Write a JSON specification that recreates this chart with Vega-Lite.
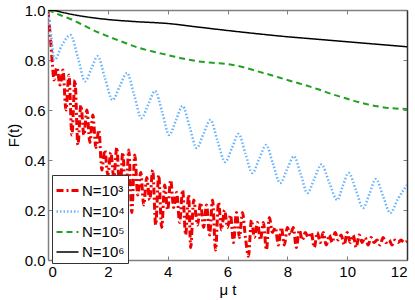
{
"$schema": "https://vega.github.io/schema/vega-lite/v6.json",
"width": 359, "height": 250, "autosize": "none",
"padding": {"left": 48, "top": 10, "right": 8, "bottom": 40},
"config": {"view": {"stroke": null}, "font": "Liberation Sans", "background": "white"},
"data": {"values": [
{"s":"N=10³","t":0,"F":1.0},{"s":"N=10³","t":0.05,"F":0.93},{"s":"N=10³","t":0.1,"F":0.86},{"s":"N=10³","t":0.15,"F":0.78},{"s":"N=10³","t":0.2,"F":0.72},{"s":"N=10³","t":0.3,"F":0.77},{"s":"N=10³","t":0.4,"F":0.7},{"s":"N=10³","t":0.5,"F":0.76},{"s":"N=10³","t":0.6,"F":0.6},{"s":"N=10³","t":0.7,"F":0.74},{"s":"N=10³","t":0.8,"F":0.5},{"s":"N=10³","t":0.9,"F":0.72},{"s":"N=10³","t":1.0,"F":0.46},{"s":"N=10³","t":1.1,"F":0.62},{"s":"N=10³","t":1.2,"F":0.5},{"s":"N=10³","t":1.3,"F":0.6},{"s":"N=10³","t":1.4,"F":0.47},{"s":"N=10³","t":1.5,"F":0.58},{"s":"N=10³","t":1.6,"F":0.45},{"s":"N=10³","t":1.7,"F":0.52},{"s":"N=10³","t":1.8,"F":0.36},{"s":"N=10³","t":1.9,"F":0.44},{"s":"N=10³","t":2.0,"F":0.34},{"s":"N=10³","t":2.1,"F":0.43},{"s":"N=10³","t":2.2,"F":0.33},{"s":"N=10³","t":2.3,"F":0.45},{"s":"N=10³","t":2.4,"F":0.26},{"s":"N=10³","t":2.5,"F":0.43},{"s":"N=10³","t":2.6,"F":0.24},{"s":"N=10³","t":2.7,"F":0.44},{"s":"N=10³","t":2.8,"F":0.19},{"s":"N=10³","t":2.9,"F":0.42},{"s":"N=10³","t":3.0,"F":0.26},{"s":"N=10³","t":3.1,"F":0.35},{"s":"N=10³","t":3.2,"F":0.22},{"s":"N=10³","t":3.3,"F":0.33},{"s":"N=10³","t":3.4,"F":0.24},{"s":"N=10³","t":3.5,"F":0.36},{"s":"N=10³","t":3.6,"F":0.14},{"s":"N=10³","t":3.7,"F":0.34},{"s":"N=10³","t":3.8,"F":0.13},{"s":"N=10³","t":3.9,"F":0.3},{"s":"N=10³","t":4.0,"F":0.2},{"s":"N=10³","t":4.1,"F":0.32},{"s":"N=10³","t":4.2,"F":0.21},{"s":"N=10³","t":4.3,"F":0.27},{"s":"N=10³","t":4.4,"F":0.15},{"s":"N=10³","t":4.5,"F":0.28},{"s":"N=10³","t":4.6,"F":0.1},{"s":"N=10³","t":4.7,"F":0.26},{"s":"N=10³","t":4.77,"F":0.05},{"s":"N=10³","t":4.87,"F":0.24},{"s":"N=10³","t":5.0,"F":0.14},{"s":"N=10³","t":5.1,"F":0.23},{"s":"N=10³","t":5.2,"F":0.13},{"s":"N=10³","t":5.3,"F":0.22},{"s":"N=10³","t":5.4,"F":0.1},{"s":"N=10³","t":5.5,"F":0.24},{"s":"N=10³","t":5.6,"F":0.04},{"s":"N=10³","t":5.7,"F":0.23},{"s":"N=10³","t":5.8,"F":0.12},{"s":"N=10³","t":5.9,"F":0.2},{"s":"N=10³","t":6.0,"F":0.13},{"s":"N=10³","t":6.1,"F":0.18},{"s":"N=10³","t":6.2,"F":0.07},{"s":"N=10³","t":6.3,"F":0.19},{"s":"N=10³","t":6.4,"F":0.09},{"s":"N=10³","t":6.5,"F":0.19},{"s":"N=10³","t":6.6,"F":0.09},{"s":"N=10³","t":6.7,"F":0.015},{"s":"N=10³","t":6.8,"F":0.16},{"s":"N=10³","t":6.9,"F":0.09},{"s":"N=10³","t":7.0,"F":0.15},{"s":"N=10³","t":7.1,"F":0.08},{"s":"N=10³","t":7.2,"F":0.15},{"s":"N=10³","t":7.3,"F":0.04},{"s":"N=10³","t":7.4,"F":0.17},{"s":"N=10³","t":7.5,"F":0.11},{"s":"N=10³","t":7.6,"F":0.13},{"s":"N=10³","t":7.7,"F":0.06},{"s":"N=10³","t":7.8,"F":0.13},{"s":"N=10³","t":7.9,"F":0.06},{"s":"N=10³","t":8.0,"F":0.13},{"s":"N=10³","t":8.1,"F":0.1},{"s":"N=10³","t":8.2,"F":0.13},{"s":"N=10³","t":8.3,"F":0.05},{"s":"N=10³","t":8.4,"F":0.12},{"s":"N=10³","t":8.5,"F":0.08},{"s":"N=10³","t":8.6,"F":0.11},{"s":"N=10³","t":8.7,"F":0.09},{"s":"N=10³","t":8.8,"F":0.11},{"s":"N=10³","t":8.9,"F":0.05},{"s":"N=10³","t":9.0,"F":0.11},{"s":"N=10³","t":9.1,"F":0.07},{"s":"N=10³","t":9.2,"F":0.11},{"s":"N=10³","t":9.3,"F":0.06},{"s":"N=10³","t":9.4,"F":0.1},{"s":"N=10³","t":9.5,"F":0.07},{"s":"N=10³","t":9.6,"F":0.11},{"s":"N=10³","t":9.7,"F":0.08},{"s":"N=10³","t":9.8,"F":0.1},{"s":"N=10³","t":9.9,"F":0.06},{"s":"N=10³","t":10.0,"F":0.11},{"s":"N=10³","t":10.1,"F":0.07},{"s":"N=10³","t":10.2,"F":0.1},{"s":"N=10³","t":10.3,"F":0.05},{"s":"N=10³","t":10.4,"F":0.1},{"s":"N=10³","t":10.5,"F":0.07},{"s":"N=10³","t":10.6,"F":0.09},{"s":"N=10³","t":10.7,"F":0.06},{"s":"N=10³","t":10.8,"F":0.09},{"s":"N=10³","t":10.9,"F":0.07},{"s":"N=10³","t":11.0,"F":0.08},{"s":"N=10³","t":11.1,"F":0.06},{"s":"N=10³","t":11.2,"F":0.09},{"s":"N=10³","t":11.3,"F":0.07},{"s":"N=10³","t":11.4,"F":0.08},{"s":"N=10³","t":11.5,"F":0.06},{"s":"N=10³","t":11.6,"F":0.08},{"s":"N=10³","t":11.7,"F":0.07},{"s":"N=10³","t":11.8,"F":0.08},{"s":"N=10³","t":11.9,"F":0.07},{"s":"N=10³","t":12.0,"F":0.075},
{"s":"N=10⁴","t":0,"F":1.0},{"s":"N=10⁴","t":0.1,"F":0.9},{"s":"N=10⁴","t":0.22,"F":0.8},{"s":"N=10⁴","t":0.47,"F":0.86},{"s":"N=10⁴","t":0.75,"F":0.9},{"s":"N=10⁴","t":1.0,"F":0.81},{"s":"N=10⁴","t":1.24,"F":0.715},{"s":"N=10⁴","t":1.45,"F":0.765},{"s":"N=10⁴","t":1.66,"F":0.815},{"s":"N=10⁴","t":1.9,"F":0.73},{"s":"N=10⁴","t":2.16,"F":0.64},{"s":"N=10⁴","t":2.4,"F":0.695},{"s":"N=10⁴","t":2.64,"F":0.748},{"s":"N=10⁴","t":2.88,"F":0.66},{"s":"N=10⁴","t":3.12,"F":0.568},{"s":"N=10⁴","t":3.35,"F":0.622},{"s":"N=10⁴","t":3.58,"F":0.676},{"s":"N=10⁴","t":3.82,"F":0.59},{"s":"N=10⁴","t":4.05,"F":0.5},{"s":"N=10⁴","t":4.28,"F":0.56},{"s":"N=10⁴","t":4.5,"F":0.616},{"s":"N=10⁴","t":4.74,"F":0.53},{"s":"N=10⁴","t":4.97,"F":0.448},{"s":"N=10⁴","t":5.2,"F":0.505},{"s":"N=10⁴","t":5.43,"F":0.56},{"s":"N=10⁴","t":5.67,"F":0.475},{"s":"N=10⁴","t":5.92,"F":0.392},{"s":"N=10⁴","t":6.15,"F":0.448},{"s":"N=10⁴","t":6.37,"F":0.504},{"s":"N=10⁴","t":6.6,"F":0.425},{"s":"N=10⁴","t":6.83,"F":0.348},{"s":"N=10⁴","t":7.06,"F":0.405},{"s":"N=10⁴","t":7.29,"F":0.46},{"s":"N=10⁴","t":7.52,"F":0.385},{"s":"N=10⁴","t":7.76,"F":0.308},{"s":"N=10⁴","t":8.0,"F":0.365},{"s":"N=10⁴","t":8.22,"F":0.415},{"s":"N=10⁴","t":8.45,"F":0.342},{"s":"N=10⁴","t":8.67,"F":0.268},{"s":"N=10⁴","t":8.9,"F":0.325},{"s":"N=10⁴","t":9.14,"F":0.382},{"s":"N=10⁴","t":9.4,"F":0.31},{"s":"N=10⁴","t":9.67,"F":0.24},{"s":"N=10⁴","t":9.85,"F":0.295},{"s":"N=10⁴","t":10.05,"F":0.348},{"s":"N=10⁴","t":10.3,"F":0.278},{"s":"N=10⁴","t":10.53,"F":0.208},{"s":"N=10⁴","t":10.75,"F":0.266},{"s":"N=10⁴","t":10.96,"F":0.324},{"s":"N=10⁴","t":11.2,"F":0.256},{"s":"N=10⁴","t":11.44,"F":0.188},{"s":"N=10⁴","t":11.7,"F":0.245},{"s":"N=10⁴","t":12.0,"F":0.3},
{"s":"N=10⁵","t":0,"F":1.0},{"s":"N=10⁵","t":0.4,"F":0.98},{"s":"N=10⁵","t":0.75,"F":0.964},{"s":"N=10⁵","t":1.0,"F":0.95},{"s":"N=10⁵","t":1.5,"F":0.92},{"s":"N=10⁵","t":2.0,"F":0.895},{"s":"N=10⁵","t":2.5,"F":0.872},{"s":"N=10⁵","t":3.0,"F":0.85},{"s":"N=10⁵","t":3.5,"F":0.834},{"s":"N=10⁵","t":4.0,"F":0.82},{"s":"N=10⁵","t":4.5,"F":0.806},{"s":"N=10⁵","t":5.0,"F":0.795},{"s":"N=10⁵","t":5.5,"F":0.789},{"s":"N=10⁵","t":6.0,"F":0.784},{"s":"N=10⁵","t":6.5,"F":0.772},{"s":"N=10⁵","t":7.0,"F":0.755},{"s":"N=10⁵","t":7.5,"F":0.738},{"s":"N=10⁵","t":8.0,"F":0.72},{"s":"N=10⁵","t":8.5,"F":0.703},{"s":"N=10⁵","t":9.0,"F":0.684},{"s":"N=10⁵","t":9.5,"F":0.663},{"s":"N=10⁵","t":10.0,"F":0.645},{"s":"N=10⁵","t":10.5,"F":0.628},{"s":"N=10⁵","t":11.0,"F":0.615},{"s":"N=10⁵","t":11.5,"F":0.607},{"s":"N=10⁵","t":12.0,"F":0.604},
{"s":"N=10⁶","t":0,"F":1.0},{"s":"N=10⁶","t":0.25,"F":0.997},{"s":"N=10⁶","t":0.5,"F":0.99},{"s":"N=10⁶","t":1.0,"F":0.978},{"s":"N=10⁶","t":1.5,"F":0.969},{"s":"N=10⁶","t":2.0,"F":0.962},{"s":"N=10⁶","t":3.0,"F":0.953},{"s":"N=10⁶","t":4.0,"F":0.946},{"s":"N=10⁶","t":5.0,"F":0.932},{"s":"N=10⁶","t":6.0,"F":0.918},{"s":"N=10⁶","t":7.0,"F":0.905},{"s":"N=10⁶","t":8.0,"F":0.893},{"s":"N=10⁶","t":9.0,"F":0.883},{"s":"N=10⁶","t":10.0,"F":0.873},{"s":"N=10⁶","t":11.0,"F":0.863},{"s":"N=10⁶","t":12.0,"F":0.853}
]},
"layer": [
{"mark": {"type": "line", "interpolate": "monotone", "clip": true},
 "encoding": {
  "x": {"field": "t", "type": "quantitative", "scale": {"domain": [0, 12], "nice": false},
        "axis": {"orient": "bottom", "values": [0,2,4,6,8,10,12], "grid": false, "domainColor": "#808080", "domainWidth": 1.5, "tickColor": "#808080", "tickSize": -4, "labelPadding": 8, "labelFontSize": 15, "labelColor": "black", "title": "μ t", "titleFontSize": 15, "titleFontWeight": "normal", "titleColor": "black", "titlePadding": 3}},
  "y": {"field": "F", "type": "quantitative", "scale": {"domain": [0, 1], "nice": false},
        "axis": {"orient": "left", "values": [0,0.2,0.4,0.6,0.8,1], "grid": false, "domainColor": "#808080", "domainWidth": 1.5, "tickColor": "#808080", "tickSize": -4, "labelPadding": 7, "labelFontSize": 15, "labelColor": "black", "title": "F(t)", "titleFontSize": 15, "titleFontWeight": "normal", "titleColor": "black", "titlePadding": 3}},
  "color": {"field": "s", "type": "nominal", "title": null,
            "scale": {"domain": ["N=10³","N=10⁴","N=10⁵","N=10⁶"], "range": ["#ee0000","#66b3ff","#22a022","#000000"]},
            "legend": {"orient": "none", "legendX": 4, "legendY": 165, "symbolType": "stroke", "symbolSize": 484, "symbolStrokeWidth": 2.5, "labelFontSize": 15, "labelColor": "black", "strokeColor": "#333333", "fillColor": "white", "padding": 3, "rowPadding": -2, "labelOffset": 2}},
  "strokeDash": {"field": "s", "type": "nominal", "title": null,
            "scale": {"domain": ["N=10³","N=10⁴","N=10⁵","N=10⁶"], "range": [[7,3,2,3],[1.5,2],[6,4],[1,0]]}},
  "strokeWidth": {"field": "s", "type": "nominal", "legend": null,
            "scale": {"domain": ["N=10³","N=10⁴","N=10⁵","N=10⁶"], "range": [3, 1.5, 3, 3]}}
 }},
{"mark": {"type": "point", "opacity": 0},
 "encoding": {
  "x": {"field": "t", "type": "quantitative", "axis": {"orient": "top", "values": [0,2,4,6,8,10,12], "labels": false, "title": null, "grid": false, "domainColor": "#808080", "domainWidth": 1.5, "tickColor": "#808080", "tickSize": -4}},
  "y": {"field": "F", "type": "quantitative", "axis": {"orient": "right", "values": [0,0.2,0.4,0.6,0.8,1], "labels": false, "title": null, "grid": false, "domainColor": "#333333", "domainWidth": 1.5, "tickColor": "#808080", "tickSize": -4}}
 }}
],
"resolve": {"axis": {"x": "independent", "y": "independent"}}
}
